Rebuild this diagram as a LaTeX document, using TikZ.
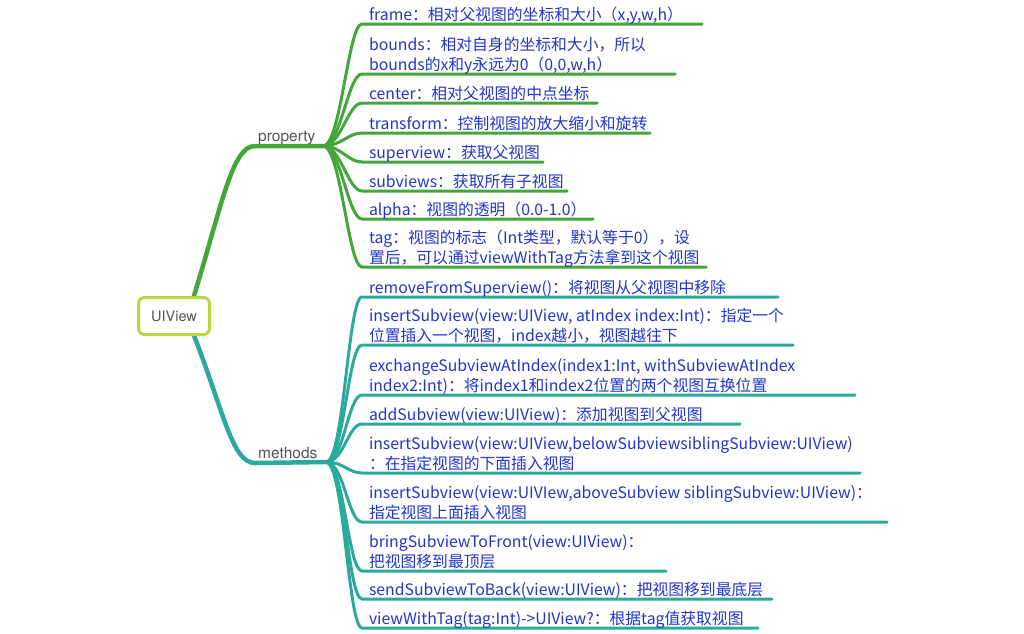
\documentclass[tikz,border=0pt]{standalone}
\usepackage{fontspec}
\setmainfont{Noto Sans CJK SC}
\newfontfamily\lblfont{TeX Gyre Heros}
\usetikzlibrary{calc,backgrounds}

\definecolor{propgreen}{RGB}{66,166,56}
\definecolor{methteal}{RGB}{42,170,156}
\definecolor{rootlime}{RGB}{188,214,60}
\definecolor{leafblue}{RGB}{34,52,204}
\definecolor{lblgray}{RGB}{85,85,85}

\begin{document}
\begin{tikzpicture}[x=1pt,y=-1pt,
  leaf/.style={anchor=base west, inner sep=0pt, outer sep=0pt, align=left,
    text=leafblue, font=\fontsize{15.8}{19.3}\selectfont},
  branchlbl/.style={anchor=base west, inner sep=0pt, text=lblgray,
    font=\lblfont\fontsize{15.5}{18}\selectfont},
  rootbox/.style={draw=rootlime, line width=3pt, rounded corners=6pt, fill=white,
    minimum width=71pt, minimum height=37pt, inner sep=0pt, text=lblgray,
    font=\lblfont\fontsize{14.5}{17}\selectfont},
  trunk/.style={line width=4.5pt, line cap=round},
  twig/.style={line width=3pt, line cap=round},
  twigpath/.style={to path={.. controls ($(\tikztostart)+(18,0)$) and ($(\tikztotarget)+(-14,0)$) .. (\tikztotarget)}},
]
\useasboundingbox (0,0) rectangle (1024,633);

% central topic
\node[rootbox] (root) at (174,316) {UIView};

% branch hubs
\coordinate (prop) at (323,146);
\coordinate (meth) at (326,462);
\coordinate (rootP) at ($(root.north)+(19,3)$);
\coordinate (rootM) at ($(root.south)+(19,-3)$);

\node[branchlbl] (propl) at (258,141.5) {property};
\node[branchlbl] (methl) at (258,458) {methods};

% property leaves (anchor = baseline of the last line)
\node[leaf] (p1) at (369,20) {frame：相对父视图的坐标和大小（x,y,w,h）};
\node[leaf] (p2) at (369,70) {bounds：相对自身的坐标和大小，所以\\bounds的x和y永远为0（0,0,w,h）};
\node[leaf] (p3) at (369,99) {center：相对父视图的中点坐标};
\node[leaf] (p4) at (369,129) {transform：控制视图的放大缩小和旋转};
\node[leaf] (p5) at (369,158) {superview：获取父视图};
\node[leaf] (p6) at (369,187) {subviews：获取所有子视图};
\node[leaf] (p7) at (369,215) {alpha：视图的透明（0.0-1.0）};
\node[leaf] (p8) at (369,263) {tag：视图的标志（Int类型，默认等于0），设\\置后，可以通过viewWithTag方法拿到这个视图};

% method leaves
\node[leaf] (m1) at (369,293) {removeFromSuperview()：将视图从父视图中移除};
\node[leaf] (m2) at (369,341) {insertSubview(view:UIView, atIndex index:Int)：指定一个\\位置插入一个视图，index越小，视图越往下};
\node[leaf] (m3) at (369,391) {exchangeSubviewAtIndex(index1:Int, withSubviewAtIndex\\index2:Int)：将index1和index2位置的两个视图互换位置};
\node[leaf] (m4) at (369,420) {addSubview(view:UIView)：添加视图到父视图};
\node[leaf] (m5) at (369,469) {insertSubview(view:UIView,belowSubviewsiblingSubview:UIView)\\：在指定视图的下面插入视图};
\node[leaf] (m6) at (369,518) {insertSubview(view:UIVIew,aboveSubview siblingSubview:UIView)：\\指定视图上面插入视图};
\node[leaf] (m7) at (369,567) {bringSubviewToFront(view:UIView)：\\把视图移到最顶层};
\node[leaf] (m8) at (369,595) {sendSubviewToBack(view:UIView)：把视图移到最底层};
\node[leaf] (m9) at (369,624) {viewWithTag(tag:Int)->UIView?：根据tag值获取视图};

% underline start/end points
\foreach \n/\y/\e in {p1/24/702, p2/74/675, p3/103/597, p4/133/650, p5/162/543,
                     p6/191/567, p7/219/593, p8/267/706,
                     m1/297/778, m2/345/793, m3/395/855, m4/424/740, m5/473/860,
                     m6/522/887, m7/571/666, m8/599/772, m9/628/758}{
  \coordinate (\n a) at (362,\y);
  \coordinate (\n b) at (\e,\y);
}

\begin{scope}[on background layer]
  % main branches
  \draw[trunk, propgreen] (rootP) .. controls (222,205) and (232,146) .. (255,146) -- (prop);
  \draw[trunk, methteal] (rootM) .. controls (224,412) and (232,463) .. (255,463) -- (meth);
  % leaf connectors with underlines
  \foreach \n in {p1,p2,p3,p4,p5,p6,p7,p8}{
    \draw[twig, propgreen] (prop) to[twigpath] (\n a) -- (\n b);
  }
  \foreach \n in {m1,m2,m3,m4,m5,m6,m7,m8,m9}{
    \draw[twig, methteal] (meth) to[twigpath] (\n a) -- (\n b);
  }
\end{scope}
\end{tikzpicture}
\end{document}
